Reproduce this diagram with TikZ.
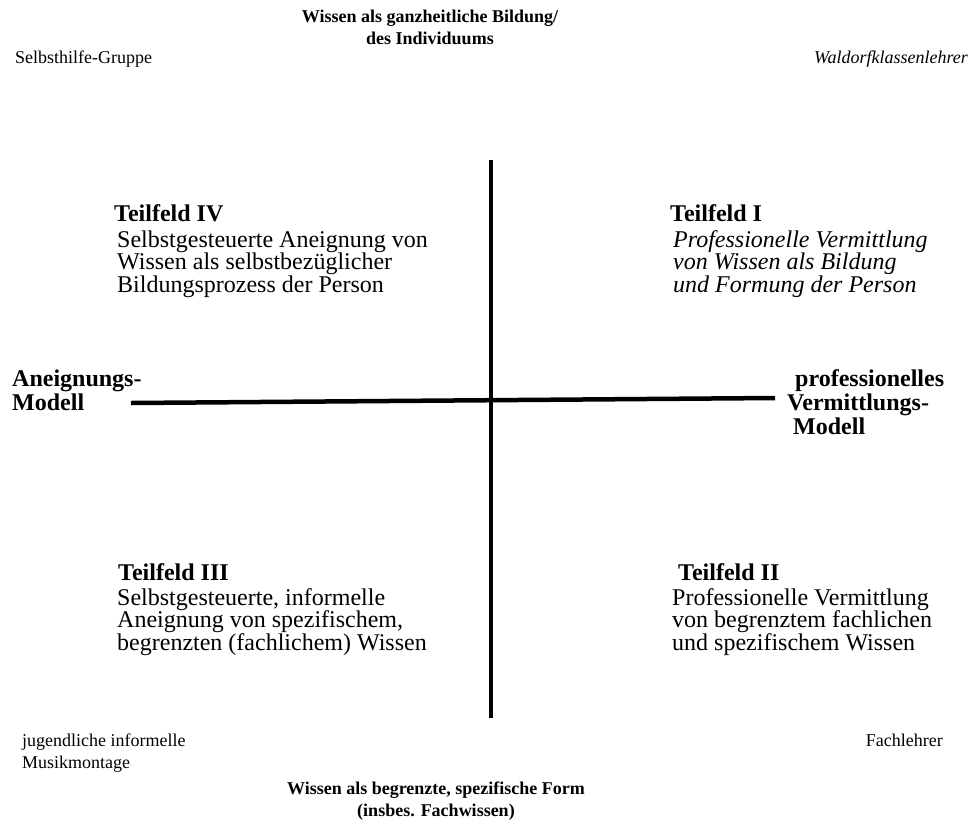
\documentclass[tikz,border=0pt]{standalone}
\usepackage{fontspec}
\setmainfont{Liberation Serif}

\begin{document}
\begin{tikzpicture}[x=1pt,y=-1pt,font=\fontsize{24}{22.5}\selectfont]

	\tikzstyle{txt}=[inner sep=0pt,anchor=base west,align=left]
	\tikzstyle{small}=[txt,font=\fontsize{18}{22}\selectfont]
	\tikzstyle{head}=[txt,font=\fontsize{24}{24}\selectfont\bfseries]
	\tikzstyle{pole}=[txt,anchor=base,align=center,font=\fontsize{18}{21.5}\selectfont\bfseries]
	\tikzstyle{axis}=[line width=4.5pt]

	\useasboundingbox (0,0) rectangle (971,835);

	% Achsen
	\coordinate (top) at (491,160);
	\coordinate (bottom) at (491,718);
	\coordinate (left) at (131,403);
	\coordinate (right) at (775,398);
	\draw[axis] (top) -- (bottom);
	\draw[axis] (left) -- (right);

	% Pole (base = letzte Zeile)
	\node[pole] (ganz) at (430,44) {Wissen als ganzheitliche Bildung/\\des Individuums};
	\node[pole] (begr) at (436,816) {Wissen als begrenzte, spezifische Form\\(insbes. Fachwissen)};
	\node[head] (aneig) at (12,410) {Aneignungs-\\Modell};
	\node[head] (vermi) at (787,434) {\hspace{8pt}professionelles\\Vermittlungs-\\\hspace{6pt}Modell};

	% Beispiele
	\node[small] (selbst) at (15,63) {Selbsthilfe-Gruppe};
	\node[small,anchor=base east] (waldorf) at (968,63) {\itshape Waldorfklassenlehrer};
	\node[small] (jugend) at (22,768) {jugendliche informelle\\Musikmontage};
	\node[small,anchor=base east] (fach) at (943,746) {Fachlehrer};

	% Teilfelder
	\node[head] (t4) at (114,221) {Teilfeld IV};
	\node[txt] (t4txt) at (117,292) {Selbstgesteuerte Aneignung von\\Wissen als selbstbez\"uglicher\\Bildungsprozess der Person};
	\node[head] (t1) at (670,221) {Teilfeld I};
	\node[txt,font=\fontsize{24}{22.5}\selectfont\itshape] (t1txt) at (673,292) {Professionelle Vermittlung\\von Wissen als Bildung\\und Formung der Person};
	\node[head] (t3) at (118,580) {Teilfeld III};
	\node[txt] (t3txt) at (117,650) {Selbstgesteuerte, informelle\\Aneignung von spezifischem,\\begrenzten (fachlichem) Wissen};
	\node[head] (t2) at (678,580) {Teilfeld II};
	\node[txt] (t2txt) at (672,650) {Professionelle Vermittlung\\von begrenztem fachlichen\\und spezifischem Wissen};
\end{tikzpicture}
\end{document}
